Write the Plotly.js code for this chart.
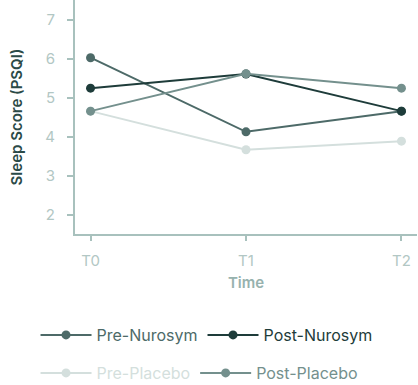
<!DOCTYPE html>
<html><head><meta charset="utf-8">
<script src="https://cdn.plot.ly/plotly-3.0.1.min.js"></script>
<style>html,body{margin:0;padding:0;background:#fff;}#chart{width:418px;height:385px;}</style>
</head><body><div id="chart"></div>
<script>
const timepoints = ["T0", "T1", "T2"];
const preNurosym = [6.02, 4.12, 4.65];
const postNurosym = [5.24, 5.60, 4.65];
const prePlacebo = [4.65, 3.66, 3.88];
const postPlacebo = [4.65, 5.61, 5.24];
const seriesNames = ["Pre-Nurosym", "Post-Nurosym", "Pre-Placebo", "Post-Placebo"];
const seriesColors = ["#4d6a68", "#1e3c3a", "#d4dfdd", "#74908d"];
const seriesData = [preNurosym, postNurosym, prePlacebo, postPlacebo];
const legendIds = ["legend", "legend", "legend2", "legend2"];

const traces = seriesData.map((ys, i) => ({
  type: "scatter", mode: "lines+markers",
  x: timepoints, y: ys,
  name: `<span style="color:${seriesColors[i]}">${seriesNames[i]}</span>`,
  line: {color: seriesColors[i], width: 2},
  marker: {color: seriesColors[i], size: 9},
  legend: legendIds[i]
}));

const axisColor = "#a8c1bd";
const legendCommon = {
  orientation: "h", xref: "container", yref: "container",
  xanchor: "left", yanchor: "middle", x: 0.085,
  font: {family: "Inter, sans-serif", size: 16}, itemwidth: 51, itemgap: 14,
  bgcolor: "rgba(0,0,0,0)"
};
const layout = {
  width: 418, height: 385,
  margin: {l: 75, r: 1, t: 0, b: 151},
  paper_bgcolor: "#fff", plot_bgcolor: "#fff",
  font: {family: "Inter, sans-serif"},
  showlegend: true,
  xaxis: {
    type: "category", range: [-0.1, 2.1],
    showline: true, linecolor: axisColor, linewidth: 2,
    ticks: "outside", tickcolor: axisColor, tickwidth: 2, ticklen: 5,
    showgrid: false, zeroline: false, ticklabelstandoff: 7,
    tickfont: {size: 15, color: "#b2c7c4"},
    title: {text: "Time", font: {size: 15, color: "#97b2ae", weight: 600}, standoff: 8}
  },
  yaxis: {
    range: [1.5, 7.5], dtick: 1,
    showline: true, linecolor: axisColor, linewidth: 2,
    ticks: "outside", tickcolor: axisColor, tickwidth: 2, ticklen: 6,
    showgrid: false, zeroline: false, ticklabelstandoff: 9,
    tickfont: {size: 15, color: "#b2c7c4"},
    title: {text: "Sleep Score (PSQI)", font: {size: 15, color: "#2b4a47", weight: 600}, standoff: 19}
  },
  legend: Object.assign({}, legendCommon, {y: 1 - 335/385}),
  legend2: Object.assign({}, legendCommon, {y: 1 - 373/385})
};
Plotly.newPlot("chart", traces, layout, {displayModeBar: false, staticPlot: true});
</script></body></html>
